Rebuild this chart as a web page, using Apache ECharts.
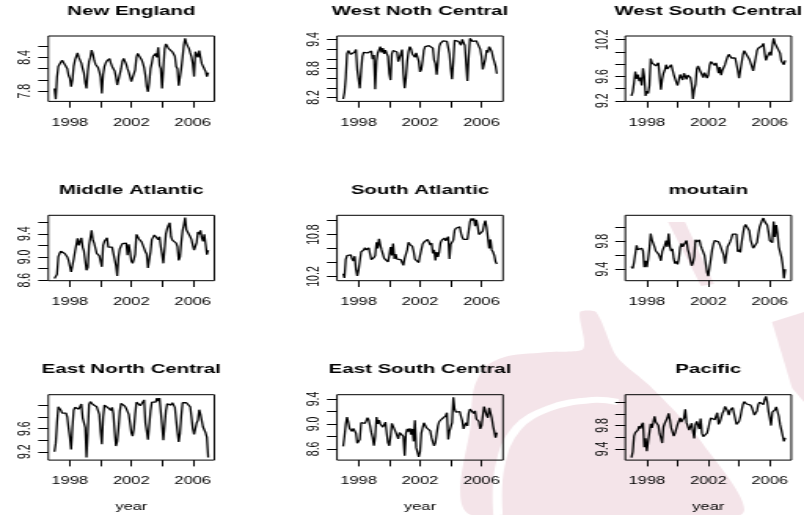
<!DOCTYPE html>
<html>
<head>
<meta charset="utf-8">
<script src="https://cdn.jsdelivr.net/npm/echarts@6/dist/echarts.min.js"></script>
<style>
html, body { margin: 0; padding: 0; background: #ffffff; overflow: hidden; }
#wrap { width: 512px; height: 515px; transform: scaleX(1.5703125); transform-origin: 0 0; }
#chart { width: 512px; height: 515px; }
</style>
</head>
<body>
<div id="wrap"><div id="chart"></div></div>
<script>
// ---------------- data ----------------
const startYear = 1997;          // monthly series, Jan 1997 .. Jan 2007
const panelTitles = ['New England', 'West Noth Central', 'West South Central',
                     'Middle Atlantic', 'South Atlantic', 'moutain',
                     'East North Central', 'East South Central', 'Pacific'];

const newEngland = [
7.85,7.66,8.05,8.24,8.28,8.31,8.35,8.38,8.36,8.24,8.20,8.08,
8.03,7.88,8.00,8.24,8.35,8.42,8.48,8.40,8.38,8.30,8.20,8.12,
7.95,7.85,8.15,8.33,8.40,8.53,8.46,8.35,8.28,8.27,8.22,8.15,
8.05,7.76,8.10,8.24,8.30,8.34,8.35,8.38,8.30,8.24,8.26,8.16,
8.05,7.91,7.94,7.92,8.20,8.33,8.38,8.40,8.28,8.20,8.14,8.06,
7.97,7.97,7.99,8.18,8.40,8.47,8.49,8.46,8.36,8.30,8.22,8.08,
7.88,7.79,7.95,8.20,8.30,8.42,8.45,8.47,8.40,8.58,8.26,8.20,
7.85,8.20,8.55,8.64,8.62,8.56,8.53,8.55,8.50,8.52,8.42,8.24,
8.20,7.90,7.87,8.20,8.40,8.62,8.74,8.65,8.60,8.56,8.48,8.41,
8.29,8.06,8.50,8.47,8.40,8.52,8.40,8.29,8.29,8.26,8.15,8.06,
8.13];

const westNothCentral = [
8.17,8.30,8.60,9.10,9.17,9.15,9.09,9.10,9.07,9.14,9.19,8.77,
8.73,8.39,8.75,9.05,9.13,9.17,9.15,9.12,9.16,9.13,9.16,8.99,
9.08,8.37,8.95,9.12,9.18,9.25,9.13,9.22,9.10,9.18,9.11,9.05,
8.70,8.56,9.10,9.17,9.15,9.16,9.14,8.94,9.02,9.05,9.19,8.70,
8.39,8.60,8.95,9.15,9.25,9.20,9.10,9.14,9.03,9.12,9.10,8.95,
8.73,8.78,8.95,9.18,9.25,9.22,9.24,9.27,9.28,9.26,9.22,8.97,
8.90,8.67,8.95,9.25,9.32,9.35,9.37,9.40,9.35,9.36,9.38,9.10,
8.80,8.58,8.95,9.38,9.40,9.37,9.36,9.34,9.28,9.40,9.33,9.28,
8.90,8.54,9.05,9.42,9.38,9.36,9.35,9.36,9.37,9.34,9.33,9.20,
9.05,8.78,8.80,9.00,9.18,9.13,9.25,9.27,9.15,9.03,8.99,8.85,
8.69];

const westSouthCentral = [
9.28,9.35,9.50,9.68,9.56,9.63,9.52,9.58,9.45,9.73,9.60,9.28,
9.36,9.32,9.45,9.89,9.82,9.79,9.79,9.77,9.80,9.82,9.82,9.38,
9.55,9.65,9.70,9.79,9.72,9.70,9.75,9.79,9.71,9.63,9.60,9.50,
9.45,9.42,9.63,9.66,9.54,9.65,9.68,9.55,9.62,9.60,9.58,9.47,
9.23,9.38,9.47,9.72,9.77,9.75,9.67,9.63,9.58,9.66,9.62,9.57,
9.62,9.78,9.84,9.86,9.84,9.78,9.82,9.75,9.65,9.75,9.62,9.70,
9.72,9.79,9.86,9.92,9.96,9.96,9.90,9.88,9.88,9.90,9.87,9.70,
9.57,9.70,9.71,9.95,10.02,10.00,9.95,9.92,9.88,9.85,9.76,9.69,
9.80,9.90,10.02,10.06,10.04,10.07,10.10,10.14,9.98,9.86,9.92,9.96,
10.00,9.94,10.10,10.22,10.14,10.17,10.06,10.02,9.98,9.85,9.84,9.79,
9.86];

const middleAtlantic = [
8.63,8.64,8.70,9.00,9.06,9.10,9.13,9.12,9.06,9.08,9.00,8.94,
8.84,8.74,8.72,8.96,9.09,9.08,9.32,9.20,9.18,9.33,9.17,9.10,
8.93,8.77,8.82,9.20,9.23,9.46,9.29,9.24,9.15,9.06,9.03,9.02,
8.92,8.83,9.20,9.27,9.30,9.33,9.17,9.18,9.19,9.17,9.19,9.20,
8.85,8.67,9.00,9.14,9.19,9.23,9.25,9.26,9.24,9.03,9.22,9.09,
8.93,8.89,8.96,9.05,9.39,9.38,9.31,9.29,9.26,9.24,9.15,9.09,
9.05,8.81,8.84,9.09,9.30,9.33,9.38,9.37,9.41,9.30,9.35,9.18,
9.05,8.89,8.90,9.40,9.49,9.55,9.59,9.35,9.29,9.29,9.26,9.24,
9.18,8.94,9.00,9.25,9.45,9.55,9.68,9.47,9.48,9.45,9.35,9.30,
9.20,9.12,9.09,9.25,9.43,9.39,9.46,9.33,9.27,9.39,9.22,9.04,
9.12];

const southAtlantic = [
10.24,10.18,10.44,10.50,10.51,10.48,10.51,10.45,10.42,10.49,10.30,10.21,
10.29,10.30,10.55,10.56,10.58,10.61,10.58,10.60,10.61,10.52,10.44,10.42,
10.47,10.50,10.69,10.60,10.74,10.65,10.58,10.52,10.46,10.44,10.46,10.41,
10.50,10.62,10.50,10.67,10.45,10.52,10.45,10.45,10.43,10.44,10.40,10.36,
10.46,10.52,10.58,10.69,10.66,10.64,10.63,10.56,10.45,10.44,10.47,10.40,
10.50,10.58,10.66,10.69,10.70,10.71,10.73,10.72,10.65,10.68,10.53,10.58,
10.43,10.55,10.48,10.55,10.68,10.72,10.74,10.75,10.71,10.74,10.77,10.45,
10.66,10.64,10.72,10.86,10.89,10.89,10.89,10.91,10.82,10.76,10.73,10.73,
10.74,10.73,10.85,10.98,11.03,11.00,11.03,10.92,11.01,10.92,10.80,10.78,
10.81,10.85,10.94,11.00,10.90,10.89,10.60,10.73,10.58,10.55,10.50,10.41,
10.38];

const moutain = [
9.44,9.41,9.50,9.62,9.74,9.68,9.69,9.68,9.70,9.66,9.43,9.52,
9.43,9.55,9.70,9.91,9.82,9.84,9.72,9.66,9.68,9.62,9.58,9.52,
9.65,9.70,9.74,9.81,9.72,9.91,9.72,9.66,9.69,9.55,9.48,9.51,
9.47,9.55,9.71,9.77,9.72,9.74,9.70,9.81,9.68,9.62,9.53,9.45,
9.49,9.58,9.82,9.79,9.80,9.82,9.74,9.69,9.68,9.60,9.48,9.36,
9.30,9.43,9.55,9.68,9.76,9.81,9.83,9.79,9.79,9.75,9.73,9.65,
9.60,9.48,9.60,9.72,9.74,9.79,9.84,9.90,9.88,9.89,9.90,9.65,
9.68,9.64,9.78,9.90,10.00,10.04,10.05,10.03,9.95,9.82,9.76,9.70,
9.71,9.70,9.78,9.90,10.00,10.05,10.10,10.13,10.08,10.09,10.03,9.93,
9.81,9.80,9.78,10.08,9.86,10.03,9.91,9.72,9.70,9.58,9.47,9.27,
9.40];

const eastNorthCentral = [
9.20,9.35,9.70,9.98,9.96,9.92,9.87,9.86,9.86,9.87,9.80,9.61,
9.45,9.24,9.62,9.92,9.97,10.00,9.94,9.94,9.92,10.03,9.79,9.77,
9.62,9.10,9.55,10.02,10.07,10.06,10.02,10.01,9.99,9.98,9.95,9.85,
9.55,9.33,9.80,10.01,10.03,10.01,9.96,9.98,9.92,9.97,9.86,9.55,
9.30,9.38,9.61,9.90,10.04,10.05,10.02,9.99,9.95,9.90,9.85,9.70,
9.53,9.47,9.60,9.85,10.06,10.06,10.03,10.00,9.99,10.02,10.10,9.70,
9.56,9.41,9.44,9.91,10.06,10.06,10.09,10.06,10.13,10.08,10.13,10.15,
9.66,9.40,9.41,9.91,10.03,10.02,10.02,10.01,10.05,10.04,9.97,9.75,
9.55,9.37,9.52,9.82,10.05,10.07,10.07,10.05,10.06,10.04,9.98,9.80,
9.60,9.50,9.52,9.70,9.75,9.93,9.85,9.74,9.63,9.60,9.53,9.45,
9.10];

const eastSouthCentral = [
8.64,8.80,8.99,9.11,9.03,8.93,8.93,8.88,8.93,8.90,8.85,8.69,
8.68,8.75,9.02,9.03,9.00,9.01,9.05,9.10,9.06,8.97,8.86,8.78,
8.65,8.80,9.11,9.00,9.06,9.00,9.03,8.95,8.98,9.03,8.85,8.70,
8.65,8.80,9.01,8.98,9.02,8.87,8.88,8.76,8.86,8.84,8.88,8.80,
8.49,8.85,8.92,8.88,8.93,8.83,8.92,8.72,9.06,8.62,8.60,8.47,
8.55,8.85,8.88,9.02,8.98,8.94,8.93,8.92,8.89,8.78,8.71,8.65,
8.70,8.84,8.97,9.04,9.03,9.08,9.09,9.11,9.13,9.18,8.75,8.88,
8.95,9.02,9.43,9.24,9.19,9.18,9.19,9.20,9.12,9.05,8.92,8.98,
9.02,8.97,9.17,9.24,9.27,9.22,9.17,9.21,9.08,9.06,9.04,8.92,
8.97,9.00,9.28,9.27,9.14,9.10,9.26,9.29,9.10,8.97,8.98,8.78,
8.86];

const pacific = [
9.25,9.35,9.62,9.68,9.70,9.72,9.79,9.75,9.81,9.85,9.43,9.58,
9.36,9.53,9.68,9.83,9.76,9.85,9.96,9.86,9.88,9.80,9.66,9.59,
9.50,9.78,9.84,9.86,9.93,10.01,9.90,9.76,9.69,9.62,9.67,9.67,
9.82,9.82,9.93,9.86,9.88,9.93,10.08,9.85,9.87,9.72,9.73,9.84,
9.70,9.58,9.82,9.87,9.90,9.74,9.92,9.67,9.61,9.59,9.62,9.67,
9.75,9.86,9.93,9.91,9.92,9.90,9.90,10.02,9.82,9.86,9.93,10.01,
10.05,10.13,10.12,10.05,9.98,10.06,10.09,10.11,10.13,10.14,9.82,9.81,
9.87,9.95,10.06,10.16,10.21,10.22,10.17,10.16,10.14,10.15,10.11,10.10,
9.98,9.97,10.05,10.16,10.20,10.18,10.19,10.16,10.25,10.30,10.21,10.04,
9.93,9.80,10.03,10.05,10.07,10.12,10.15,9.96,9.82,9.81,9.63,9.53,
9.59];

const panelSeries = [newEngland, westNothCentral, westSouthCentral,
                     middleAtlantic, southAtlantic, moutain,
                     eastNorthCentral, eastSouthCentral, pacific];

// axis ranges and ticks
const xRange = [1996.6, 2007.4];
const xTickValues = [1998, 2000, 2002, 2004, 2006];
const xTickLabels = [1998, 2002, 2006];
const yRanges = [[7.62, 8.78], [8.12, 9.47], [9.19, 10.26],
                 [8.59, 9.72], [10.14, 11.075], [9.236, 10.17],
                 [9.056, 10.19], [8.42, 9.47], [9.207, 10.33]];
const yTickValues = [[7.8, 8.0, 8.2, 8.4, 8.6], [8.2, 8.4, 8.6, 8.8, 9.0, 9.2, 9.4], [9.2, 9.4, 9.6, 9.8, 10.0, 10.2],
                     [8.6, 8.8, 9.0, 9.2, 9.4, 9.6], [10.2, 10.4, 10.6, 10.8, 11.0], [9.4, 9.6, 9.8, 10.0],
                     [9.2, 9.4, 9.6, 9.8, 10.0], [8.6, 8.8, 9.0, 9.2, 9.4], [9.4, 9.6, 9.8, 10.0, 10.2]];
const yTickLabels = [[7.8, 8.4], [8.2, 8.8, 9.4], [9.2, 9.6, 10.2],
                     [8.6, 9.0, 9.4], [10.2, 10.8], [9.4, 9.8],
                     [9.2, 9.6], [8.6, 9.0, 9.4], [9.4, 9.8]];
const xAxisTitle = 'year';

// ---------------- layout (base coords, page is stretched horizontally) ----------------
const S = 804 / 512;
const FONT = '"Liberation Sans", Arial, Helvetica, sans-serif';
const colLeft = [48.3 / S, 337 / S, 625.3 / S];
const boxW = 166 / S;
const rowTop = [36, 215.3, 394.7];
const boxH = 65.4;
const titleTop = [4.5, 183.5, 362.5];

const grids = [], xAxes = [], yAxes = [], series = [], titles = [];
for (let i = 0; i < 9; i++) {
  const r = Math.floor(i / 3), c = i % 3;
  grids.push({
    left: colLeft[c], top: rowTop[r], width: boxW, height: boxH,
    show: true, borderColor: '#000', borderWidth: 1, backgroundColor: 'transparent',
    containLabel: false, outerBoundsMode: 'none'
  });
  titles.push({
    text: panelTitles[i], left: colLeft[c] + boxW / 2, top: titleTop[r], textAlign: 'center', padding: 0,
    textStyle: { fontSize: 13, fontWeight: 'bold', color: '#000', fontFamily: FONT }
  });
  xAxes.push({
    gridIndex: i, type: 'value', min: xRange[0], max: xRange[1],
    axisLine: { show: false }, splitLine: { show: false },
    axisTick: { show: true, length: 6.3, lineStyle: { color: '#000', width: 1 }, customValues: xTickValues },
    axisLabel: { show: true, customValues: xTickLabels, margin: 16, color: '#000', fontSize: 10.5, fontFamily: FONT,
                 formatter: v => String(Math.round(v)) },
    name: r === 2 ? xAxisTitle : '', nameLocation: 'middle', nameGap: 42,
    nameTextStyle: { color: '#000', fontSize: 10.5, fontFamily: FONT }
  });
  yAxes.push({
    gridIndex: i, type: 'value', min: yRanges[i][0], max: yRanges[i][1],
    axisLine: { show: false }, splitLine: { show: false },
    axisTick: { show: true, length: 6.4, lineStyle: { color: '#000', width: 1 }, customValues: yTickValues[i] },
    axisLabel: { show: true, customValues: yTickLabels[i], rotate: 90, margin: 9, color: '#000', fontSize: 10.5,
                 fontFamily: FONT, formatter: v => Number(v).toFixed(1) }
  });
  const vals = panelSeries[i];
  series.push({
    type: 'line', xAxisIndex: i, yAxisIndex: i, showSymbol: false, symbol: 'none',
    lineStyle: { color: '#000', width: 1.3 }, silent: true, animation: false,
    data: vals.map((v, k) => [startYear + k / 12, v])
  });
}

// faint background watermark (decoration, page pixel coordinates)
const WM = '#f4e4e9';
const toBase = pts => pts.map(([x, y]) => [x / S, y]);
const watermark = [
  { type: 'polygon', z: -10, silent: true,
    shape: { points: toBase([[668, 222], [685, 222], [714, 284], [701, 286]]) }, style: { fill: WM } },
  { type: 'polygon', z: -10, silent: true,
    shape: { smooth: 0.25, points: toBase([[471, 515], [471, 420], [474, 388], [486, 366], [508, 356], [550, 352],
                                          [583, 349], [580, 312], [596, 312], [617, 357], [650, 386], [700, 440],
                                          [740, 515]]) },
    style: { fill: WM } },
  { type: 'polygon', z: -10, silent: true,
    shape: { points: toBase([[772, 322], [804, 312], [804, 402], [792, 388]]) }, style: { fill: WM } },
  { type: 'polyline', z: -9, silent: true,
    shape: { smooth: 0.4, points: toBase([[498, 515], [500, 466], [517, 428], [550, 408], [592, 400], [618, 402]]) },
    style: { stroke: '#ffffff', lineWidth: 6, fill: null } }
];

const chart = echarts.init(document.getElementById('chart'), null, { renderer: 'canvas' });
chart.setOption({
  backgroundColor: 'transparent',
  animation: false,
  graphic: watermark,
  title: titles,
  grid: grids,
  xAxis: xAxes,
  yAxis: yAxes,
  series: series
});
</script>
</body>
</html>
